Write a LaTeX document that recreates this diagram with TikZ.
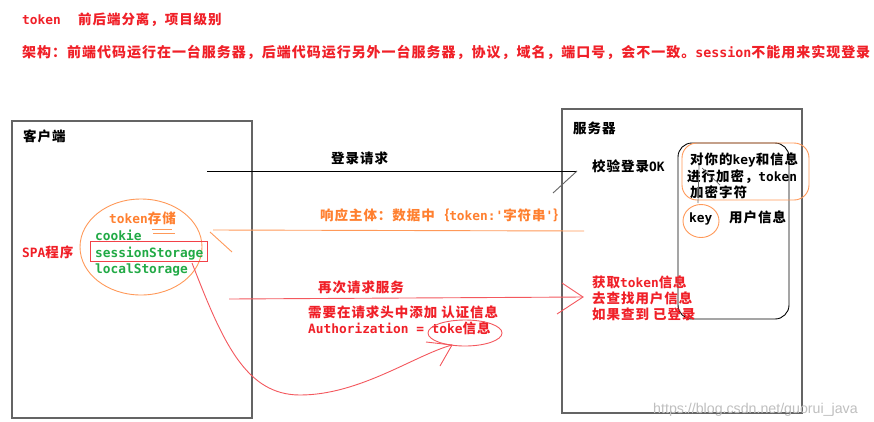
\documentclass[tikz,border=0pt]{standalone}
\usepackage{fontspec}
\setmainfont{Noto Sans CJK SC}
\newfontfamily\cj{Noto Sans CJK SC}[LetterSpace=7]
\newfontfamily\mn{DejaVu Sans Mono}[Scale=0.95]
\newfontfamily\wm{Liberation Sans}
\newcommand\m[1]{{\mn #1}}
\definecolor{cred}{RGB}{240,32,40}
\definecolor{corg}{RGB}{255,128,48}
\definecolor{cgrn}{RGB}{34,170,70}
\definecolor{cbox}{RGB}{100,100,100}
\begin{document}
\begin{tikzpicture}[x=1pt,y=-1pt,
  txt/.style={anchor=base west, inner sep=0, font=\cj\bfseries\fontsize{13.5}{16}\selectfont},
  big/.style={txt, font=\cj\bfseries\fontsize{14}{16}\selectfont},
  redt/.style={txt, text=cred},
  orgt/.style={txt, text=corg},
  grnt/.style={txt, text=cgrn},
  frame/.style={draw=cbox, line width=1.3pt},
  redl/.style={draw=cred!75, line width=0.9pt},
  orgl/.style={draw=corg!80, line width=0.9pt},
  blkl/.style={draw=black, line width=0.9pt}]
\useasboundingbox[fill=white] (0,0) rectangle (874,421);

% header
\node[redt] (h1) at (22,24) {\m{token}};
\node[redt] (h2) at (78,24) {前后端分离，项目级别};
\node[big, text=cred] (h3) at (22,57) {架构：前端代码运行在一台服务器，后端代码运行另外一台服务器，协议，域名，端口号，会不一致。\m{session}不能用来实现登录};

% client
\draw[frame] (12,121) rectangle (252,418);
\node[txt] (client) at (23,141) {客户端};
\node[redt] (spa) at (22,257) {\m{SPA}程序};
\draw[orgl] (141,247) ellipse [x radius=61, y radius=48];
\node[orgt] (store) at (109,223) {\m{token}存储};
\draw[orgl] (152,229) -- (172,229);
\draw[orgl] (153,233) -- (175,233);
\node[grnt] (cookie) at (95,240) {\m{cookie}};
\node[grnt] (sess) at (95,257) {\m{sessionStorage}};
\node[grnt] (local) at (95,273) {\m{localStorage}};
\draw[draw=cred!85, line width=0.9pt] (90,241) rectangle (207,261);
\draw[orgl] (210,232) -- (232,252);

% server
\draw[frame] (562,109) rectangle (802,413);
\node[txt] (server) at (573,133) {服务器};
\node[txt] (ok) at (592,171) {校验登录\m{OK}};
\draw[blkl, rounded corners=14pt] (678,143) rectangle (789,319);
\draw[orgl, rounded corners=15pt] (682,143) rectangle (809,200);
\node[txt] (k1) at (690,164) {对你的\m{key}和信息};
\node[txt] (k2) at (687,181) {进行加密，\m{token}};
\node[txt] (k3) at (690,197) {加密字符};
\node[txt] (key) at (689,222) {\m{key}};
\node[txt] (uinfo) at (729,222) {用户信息};
\draw[orgl] (701,221) ellipse [x radius=18, y radius=16.5];
\draw[draw=black!60, line width=0.7pt] (698,203) -- (699,165) (702,168) -- (720,185);
\node[redt] (r1) at (592,287) {获取\m{token}信息};
\node[redt] (r2) at (592,303) {去查找用户信息};
\node[redt] (r3) at (592,319) {如果查到 已登录};

% login request
\coordinate (l1) at (207,171);
\coordinate (l2) at (577,171);
\coordinate (l3) at (553,193);
\draw[blkl] (l1) -- (l2);
\draw[draw=black!60, line width=0.9pt] (l2) -- (l3);
\node[txt] (login) at (331,163) {登录请求};

% response
\coordinate (o1) at (213,230);
\coordinate (o2) at (584,231);
\draw[orgl] (o1) -- (o2);
\node[orgt] (resp) at (320,220) {响应主体：数据中｛\m{token:'}字符串\m{'}｝};

% second request
\coordinate (s1) at (229,299);
\coordinate (s2) at (583,297);
\coordinate (s3) at (562,283);
\coordinate (s4) at (557,314);
\draw[redl] (s1) -- (s2);
\draw[redl] (s3) -- (s2) -- (s4);
\node[redt] (again) at (318,292) {再次请求服务};
\node[redt] (need) at (308,317) {需要在请求头中添加 认证信息};
\node[redt] (auth) at (308,333) {\m{Authorization = toke}信息};
\draw[redl] (465,333) ellipse [x radius=37, y radius=13];

% curve
\coordinate (c0) at (192,263);
\coordinate (cm) at (300,395);
\coordinate (c1) at (452,345);
\coordinate (b1) at (426,342);
\coordinate (b2) at (440,366);
\draw[redl] (c0) .. controls (222,340) and (245,395) .. (cm) .. controls (360,395) and (415,355) .. (c1);
\draw[redl] (b1) -- (c1) -- (b2);

% watermark
\node[anchor=base west, inner sep=0, text=black!25, font=\wm\fontsize{14.2}{16}\selectfont] (wmk) at (653,413) {https://blog.csdn.net/guorui\_java};
\end{tikzpicture}
\end{document}
